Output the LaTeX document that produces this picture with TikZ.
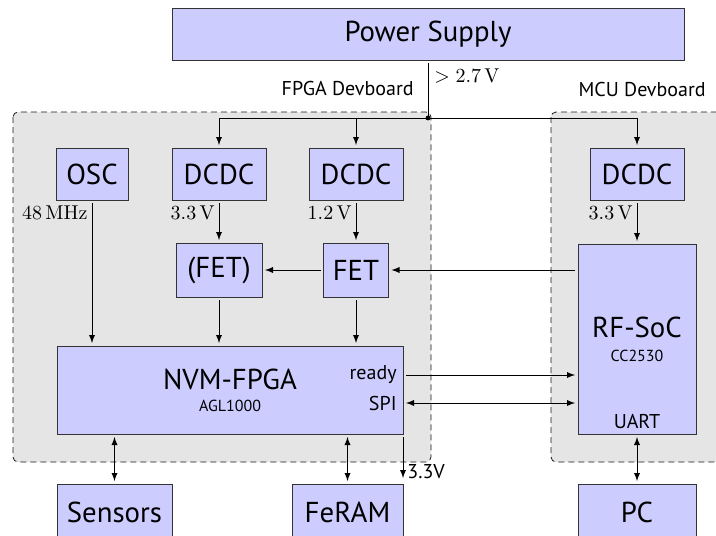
\documentclass[tikz,border=0pt]{standalone}
\usepackage{fontspec}
\setsansfont{PT Sans}
\usepackage{tikz}

\tikzset{
  blk/.style={draw=black!80, fill=blue!20, font=\sffamily\Large, inner sep=0pt, outer sep=1.5pt},
  board/.style={draw=black!90, dash pattern=on 3pt off 2pt, fill=black!10, rounded corners=2.5pt},
  lbl/.style={font=\sffamily, inner sep=1.5pt},
  val/.style={inner sep=2pt}
}

\begin{document}
\begin{tikzpicture}
  [x=0.5pt, y=-0.5pt, >=latex]
  \useasboundingbox (0,0) rectangle (716,535);
  % the two devboards
  \draw[board] (13,112) rectangle (431,462);
  \draw[board] (551,112) rectangle (740,462);
  \node[lbl, anchor=east] (fpgabrd) at (417,89) {FPGA Devboard};
  \node[lbl, anchor=east] (mcubrd) at (709,90) {MCU Devboard};
  % blocks
  \node[blk, minimum width=256pt, minimum height=26pt] (psu) at (428,34) {Power Supply};
  \node[blk, minimum width=36pt, minimum height=26pt] (osc) at (92,174) {OSC};
  \node[blk, minimum width=47pt, minimum height=26pt] (dcdcA) at (219,174) {DCDC};
  \node[blk, minimum width=47pt, minimum height=26pt] (dcdcB) at (356,174) {DCDC};
  \node[blk, minimum width=47pt, minimum height=26pt] (dcdcM) at (637,174) {DCDC};
  \node[blk, minimum width=43pt, minimum height=27pt] (fetA) at (219,270) {(FET)};
  \node[blk, minimum width=32.5pt, minimum height=27pt] (fetB) at (356,270) {FET};
  \node[blk, minimum width=173pt, minimum height=44pt, align=center] (fpga) at (230,390)
    {NVM-FPGA\\[-7pt]{\footnotesize AGL1000}};
  \node[blk, minimum width=59pt, minimum height=95pt, align=center] (soc) at (637,339)
    {RF-SoC\\[-6pt]{\footnotesize CC2530}};
  \node[blk, minimum width=57.5pt, minimum height=28pt] (sens) at (114.5,512) {Sensors};
  \node[blk, minimum width=55.5pt, minimum height=28pt] (feram) at (347.5,512) {FeRAM};
  \node[blk, minimum width=59pt, minimum height=28pt] (pc) at (637,512) {PC};
  % labels
  \node[val, anchor=west] (vin) at (430,76) {$>2.7\,\mathrm{V}$};
  \node[val, anchor=east] (fosc) at (92,213) {$48\,\mathrm{MHz}$};
  \node[val, anchor=east] (vA) at (219,213) {$3.3\,\mathrm{V}$};
  \node[val, anchor=east] (vB) at (356,213) {$1.2\,\mathrm{V}$};
  \node[val, anchor=east] (vM) at (637,213) {$3.3\,\mathrm{V}$};
  \node[lbl, anchor=east] (rdy) at (400,375) {ready};
  \node[lbl, anchor=east] (spi) at (400,403) {SPI};
  \node[lbl] (uart) at (637,421) {UART};
  \coordinate (j) at (428,118);
  \coordinate (vout) at (403,478);
  \node[lbl, anchor=west] (vfram) at (404,472) {3.3V};
  % supply rail
  \draw (psu.south) -- (j);
  \fill (j) circle (1.2pt);
  \draw[->] (j) -| (dcdcA.north);
  \draw[->] (j) -| (dcdcB.north);
  \draw[->] (j) -| (dcdcM.north);
  % on the boards
  \draw[->] (osc) -- (osc |- fpga.north);
  \draw[->] (dcdcA) -- (fetA);
  \draw[->] (dcdcB) -- (fetB);
  \draw[->] (dcdcM) -- (soc);
  \draw[->] (fetA) -- (fetA |- fpga.north);
  \draw[->] (fetB) -- (fetB |- fpga.north);
  \draw[->] (fetB) -- (fetA);
  \draw[->] (soc.west |- fetB) -- (fetB);
  \draw[->] (fpga.east |- rdy) -- (soc.west |- rdy);
  \draw[<->] (fpga.east |- spi) -- (soc.west |- spi);
  % off the boards
  \draw[<->] (fpga.south -| sens) -- (sens);
  \draw[<->] (fpga.south -| feram) -- (feram);
  \draw[->] (fpga.south -| vout) -- (vout);
  \draw[<->] (soc) -- (pc);
\end{tikzpicture}
\end{document}
